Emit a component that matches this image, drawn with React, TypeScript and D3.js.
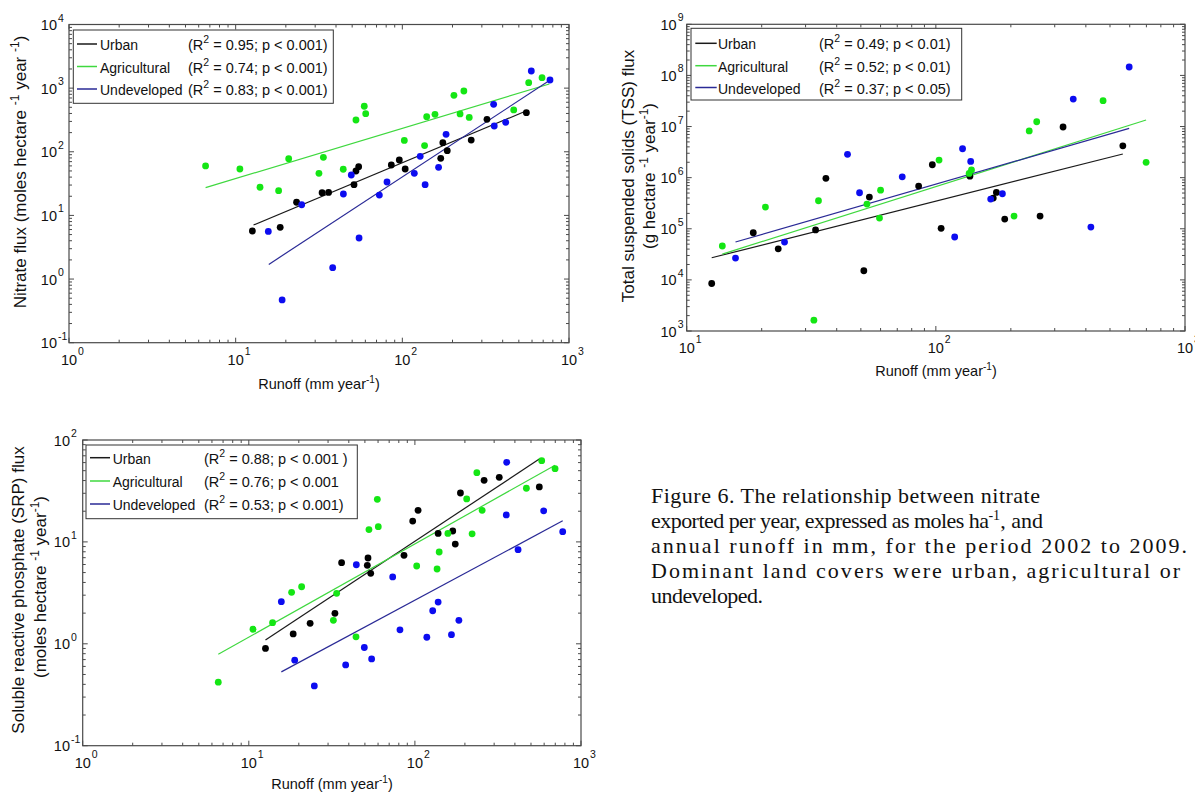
import React from 'react';
import * as d3 from 'd3';

type Pt = [number, number];

// ---------- Panel A: Nitrate flux vs runoff ----------
const nitrateUrban: Pt[] = [
  [12.6, 5.69], [18.5, 6.5], [23.2, 16.1], [33, 22.8], [36.1, 23], [51.3, 30.4],
  [52.7, 49.9], [54.7, 58.3], [85.9, 62], [95.9, 74.3], [104, 53.6], [170, 79],
  [175, 139], [186, 104], [259, 153], [322, 324], [555, 411],
];
const nitrateAgricultural: Pt[] = [
  [6.6, 60], [10.6, 53.6], [14.0, 27.7], [18.1, 24.5], [20.8, 77.8], [31.6, 45.9],
  [33.6, 81.9], [44.2, 53.1], [52.7, 316], [59.1, 519], [60.3, 397], [102.8, 151],
  [136, 125], [140, 356], [157, 388], [204, 771], [234, 901], [222, 393], [252, 347],
  [466, 454], [573, 1219], [689, 1459],
];
const nitrateUndeveloped: Pt[] = [
  [15.7, 5.6], [24.9, 14.7], [19, 0.47], [38.2, 1.51], [44.3, 21.7], [55, 4.42],
  [72.8, 20.9], [80.9, 33.5], [118, 45.9], [137, 30.4], [49.4, 43.2], [128, 84.9],
  [165, 57], [183, 188], [353, 557], [356, 254], [417, 290], [594, 1860], [769, 1343],
];
const nitrateUrbanFit: Pt[] = [[12.8, 7.07], [552, 437]];
const nitrateAgriculturalFit: Pt[] = [[6.6, 27.3], [762, 1161]];
const nitrateUndevelopedFit: Pt[] = [[15.8, 1.7], [755, 1294]];
const nitrateStats = ['0.95', '0.74', '0.83'];
const nitratePText = ['p < 0.001)', 'p < 0.001)', 'p < 0.001)'];

// ---------- Panel B: TSS flux vs runoff ----------
const tssUrban: Pt[] = [
  [36.2, 0.97e6], [12.6, 8.5e3], [18.5, 8.35e4], [23.3, 4.06e4], [32.9, 9.5e4],
  [54.1, 4.17e5], [51.4, 1.51e4], [85.3, 6.85e5], [96.8, 1.79e6], [137, 1.07e6],
  [324, 9.8e6], [563, 4.2e6], [170, 3.99e5], [175, 5.15e5], [189, 1.55e5],
  [262, 1.77e5], [105, 1.02e5],
];
const tssAgricultural: Pt[] = [
  [13.9, 4.6e4], [20.7, 2.66e5], [32.4, 1.63e3], [33.8, 3.53e5], [52.9, 3.04e5],
  [60, 5.7e5], [59.4, 1.62e5], [103, 2.21e6], [136, 1.21e6], [139, 1.41e6],
  [237, 8.2e6], [254, 1.24e7], [469, 3.2e7], [698, 1.99e6], [206, 1.77e5],
];
const tssUndeveloped: Pt[] = [
  [44.2, 2.86e6], [73.3, 1.04e6], [15.7, 2.67e4], [24.7, 5.5e4], [49.4, 5.07e5],
  [128, 3.68e6], [138, 2.08e6], [356, 3.45e7], [597, 1.46e8], [166, 3.81e5],
  [185, 4.84e5], [119, 6.9e4], [419, 1.08e5],
];
const tssUrbanFit: Pt[] = [[12.6, 2.71e4], [563, 2.9e6]];
const tssAgriculturalFit: Pt[] = [[13.9, 3.2e4], [698, 1.34e7]];
const tssUndevelopedFit: Pt[] = [[15.7, 5.5e4], [597, 9.2e6]];
const tssStats = ['0.49', '0.52', '0.37'];
const tssPText = ['p < 0.01)', 'p < 0.01)', 'p < 0.05)'];

// ---------- Panel C: SRP flux vs runoff ----------
const srpUrban: Pt[] = [
  [12.6, 0.9], [18.5, 1.25], [23.4, 1.59], [33, 1.99], [36.2, 6.25], [52.2, 6.95],
  [51.7, 5.89], [54.2, 4.92], [86, 7.38], [97, 16], [104.5, 20.4], [138, 12.1],
  [169, 12.8], [175, 9.53], [188, 30.2], [261, 40.2], [322, 43], [561, 34.6],
];
const srpAgricultural: Pt[] = [
  [6.55, 0.42], [10.6, 1.39], [13.9, 1.61], [18.1, 3.2], [20.8, 3.63], [32.3, 1.7],
  [44.2, 1.17], [33.8, 3.13], [52.9, 13.2], [59.4, 26.2], [60.2, 14.1], [102.5, 5.8],
  [136, 5.42], [140, 7.96], [158, 12.1], [205, 26.4], [221, 12], [236, 47.8],
  [254, 20.4], [469, 33.6], [580, 62.7], [698, 52.3],
];
const srpUndeveloped: Pt[] = [
  [15.7, 2.59], [18.9, 0.69], [24.8, 0.386], [38.3, 0.62], [49.6, 0.92], [54.9, 0.71],
  [81.3, 1.37], [118, 1.16], [128, 2.11], [138, 2.57], [166, 1.23], [184, 1.7],
  [44.4, 5.97], [73.5, 4.53], [357, 60.4], [355, 18.4], [418, 8.38], [596, 20.2],
  [776, 12.6],
];
const srpUrbanFit: Pt[] = [[12.6, 1.09], [561, 65]];
const srpAgriculturalFit: Pt[] = [[6.55, 0.79], [698, 56.5]];
const srpUndevelopedFit: Pt[] = [[15.7, 0.53], [776, 16.1]];
const srpStats = ['0.88', '0.76', '0.53'];
const srpPText = ['p < 0.001 )', 'p < 0.001', 'p < 0.001)'];

const seriesNames = ['Urban', 'Agricultural', 'Undeveloped'];
const dotColors = ['#000000', '#14e614', '#0c0cf0'];
const lineColors = ['#1a1a1a', '#3fd83f', '#2a2a96'];

// Caption lines
const captionLines = [
  'Figure 6. The relationship between nitrate',
  'exported per year, expressed as moles ha',
  'annual runoff in mm, for the period 2002 to 2009.',
  'Dominant land covers were urban, agricultural or',
  'undeveloped.',
];

const FONT = '"Liberation Sans", Arial, sans-serif';

interface PanelProps {
  xDomain: [number, number];
  yDomain: [number, number];
  box: { l: number; r: number; t: number; b: number };
  series: Pt[][];
  fits: Pt[][];
  stats: string[];
  pTexts: string[];
  legend: { l: number; r: number; t: number; b: number; rows: number[]; line: [number, number]; nameX: number; statX: number };
  yLabelOffset: number;
}

function decades(domain: [number, number]): number[] {
  const a = Math.round(Math.log10(domain[0]));
  const b = Math.round(Math.log10(domain[1]));
  return d3.range(a, b + 1);
}

function Panel(p: PanelProps) {
  const x = d3.scaleLog().domain(p.xDomain).range([p.box.l, p.box.r]);
  const y = d3.scaleLog().domain(p.yDomain).range([p.box.b, p.box.t]);
  const xDec = decades(p.xDomain);
  const yDec = decades(p.yDomain);
  const minor = (dec: number[]) => {
    const out: number[] = [];
    for (let i = 0; i < dec.length - 1; i++) for (let m = 2; m <= 9; m++) out.push(m * Math.pow(10, dec[i]));
    return out;
  };
  const xMinor = minor(xDec);
  const yMinor = minor(yDec);
  const line = d3.line<Pt>().x((d) => x(d[0])).y((d) => y(d[1]));
  const axisColor = '#4a4a4a';
  const MJ = 5;
  const MN = 3;
  const { l, r, t, b } = p.box;
  const lg = p.legend;
  return (
    <g fontFamily={FONT}>
      {xDec.map((e) => (
        <g key={'xt' + e}>
          <line x1={x(Math.pow(10, e))} x2={x(Math.pow(10, e))} y1={b} y2={b - MJ} stroke={axisColor} />
          <line x1={x(Math.pow(10, e))} x2={x(Math.pow(10, e))} y1={t} y2={t + MJ} stroke={axisColor} />
          <text x={x(Math.pow(10, e))} y={b + 22} fontSize={14.5} textAnchor="middle" fill="#111">10</text>
          <text x={x(Math.pow(10, e)) + 9} y={b + 12} fontSize={10.5} fill="#111">{String(e)}</text>
        </g>
      ))}
      {xMinor.map((v, i) => (
        <g key={'xm' + i}>
          <line x1={x(v)} x2={x(v)} y1={b} y2={b - MN} stroke={axisColor} />
          <line x1={x(v)} x2={x(v)} y1={t} y2={t + MN} stroke={axisColor} />
        </g>
      ))}
      {yDec.map((e) => (
        <g key={'yt' + e}>
          <line x1={l} x2={l + MJ} y1={y(Math.pow(10, e))} y2={y(Math.pow(10, e))} stroke={axisColor} />
          <line x1={r} x2={r - MJ} y1={y(Math.pow(10, e))} y2={y(Math.pow(10, e))} stroke={axisColor} />
          <text x={l - p.yLabelOffset} y={y(Math.pow(10, e)) + 5.5} fontSize={14.5} textAnchor="end" fill="#111">10</text>
          <text x={l - p.yLabelOffset + 1} y={y(Math.pow(10, e)) - 3} fontSize={10.5} fill="#111">{String(e)}</text>
        </g>
      ))}
      {yMinor.map((v, i) => (
        <g key={'ym' + i}>
          <line x1={l} x2={l + MN} y1={y(v)} y2={y(v)} stroke={axisColor} />
          <line x1={r} x2={r - MN} y1={y(v)} y2={y(v)} stroke={axisColor} />
        </g>
      ))}
      <rect x={l} y={t} width={r - l} height={b - t} fill="none" stroke={axisColor} strokeWidth={1.2} />
      {p.fits.map((f, i) => (
        <path key={'f' + i} d={line(f) || ''} stroke={lineColors[i]} strokeWidth={1.2} fill="none" />
      ))}
      {p.series.map((s, i) =>
        s.map((d, j) => <circle key={'p' + i + '_' + j} cx={x(d[0])} cy={y(d[1])} r={3.4} fill={dotColors[i]} />)
      )}
      <rect x={lg.l} y={lg.t} width={lg.r - lg.l} height={lg.b - lg.t} fill="#fff" stroke="#333" strokeWidth={1} />
      {seriesNames.map((n, i) => (
        <g key={'lg' + i}>
          <line x1={lg.line[0]} x2={lg.line[1]} y1={lg.rows[i]} y2={lg.rows[i]} stroke={lineColors[i]} strokeWidth={1.5} />
          <text x={lg.nameX} y={lg.rows[i] + 6} fontSize={14} fill="#111">{n}</text>
          <text x={lg.statX} y={lg.rows[i] + 6} fontSize={14.5} fill="#111">
            (R<tspan fontSize={10.5} dy={-7}>2</tspan>
            <tspan dy={7}>{' = ' + p.stats[i] + '; ' + p.pTexts[i]}</tspan>
          </text>
        </g>
      ))}
    </g>
  );
}

// label made of [text, isSuperscript] parts
type Part = [string, boolean];
function SupText(props: { parts: Part[]; x?: number; y?: number; transform?: string; size: number; anchor?: string }) {
  const supSize = Math.round(props.size * 0.72);
  const raise = Math.round(props.size * 0.42);
  let prevSup = false;
  return (
    <text x={props.x} y={props.y} transform={props.transform} textAnchor={props.anchor || 'middle'} fontSize={props.size}>
      {props.parts.map(([s, sup], i) => {
        let dy = 0;
        if (sup && !prevSup) dy = -raise;
        if (!sup && prevSup) dy = raise;
        prevSup = sup;
        return (
          <tspan key={i} dy={dy || undefined} fontSize={sup ? supSize : undefined}>
            {s}
          </tspan>
        );
      })}
    </text>
  );
}

const runoffLabel: Part[] = [['Runoff (mm year', false], ['-1', true], [')', false]];

export default function App() {
  return (
    <svg width={1195} height={792} style={{ position: 'absolute', left: 0, top: 0, background: '#fff' }}>
      <rect x={0} y={0} width={1195} height={792} fill="#fff" />
      <Panel
        xDomain={[1, 1000]}
        yDomain={[0.1, 10000]}
        box={{ l: 69, r: 569, t: 24.5, b: 342.7 }}
        series={[nitrateUrban, nitrateAgricultural, nitrateUndeveloped]}
        fits={[nitrateUrbanFit, nitrateAgriculturalFit, nitrateUndevelopedFit]}
        stats={nitrateStats}
        pTexts={nitratePText}
        legend={{ l: 73.3, r: 333.3, t: 30, b: 103.3, rows: [44, 66.5, 89], line: [77, 97], nameX: 100, statX: 188 }}
        yLabelOffset={12}
      />
      <Panel
        xDomain={[10, 1000]}
        yDomain={[1000, 1e9]}
        box={{ l: 686.7, r: 1185, t: 24.3, b: 331 }}
        series={[tssUrban, tssAgricultural, tssUndeveloped]}
        fits={[tssUrbanFit, tssAgriculturalFit, tssUndevelopedFit]}
        stats={tssStats}
        pTexts={tssPText}
        legend={{ l: 691, r: 961.7, t: 28.3, b: 100, rows: [43.3, 65.7, 87.5], line: [695.3, 716.7], nameX: 718, statX: 819 }}
        yLabelOffset={10}
      />
      <Panel
        xDomain={[1, 1000]}
        yDomain={[0.1, 100]}
        box={{ l: 82.7, r: 581, t: 440, b: 745.7 }}
        series={[srpUrban, srpAgricultural, srpUndeveloped]}
        fits={[srpUrbanFit, srpAgriculturalFit, srpUndevelopedFit]}
        stats={srpStats}
        pTexts={srpPText}
        legend={{ l: 86, r: 357.3, t: 445, b: 518.7, rows: [457.7, 481, 504], line: [90, 110], nameX: 112.7, statX: 204 }}
        yLabelOffset={12.7}
      />

      <g fontFamily={FONT} fill="#111">
        <SupText
          transform="translate(26,172) rotate(-90)"
          size={17}
          parts={[['Nitrate flux (moles hectare ', false], ['-1', true], [' year ', false], ['-1', true], [')', false]]}
        />
        <SupText x={319} y={389} size={14.5} parts={runoffLabel} />

        <SupText transform="translate(634,176) rotate(-90)" size={17} parts={[['Total suspended solids (TSS) flux', false]]} />
        <SupText
          transform="translate(655,176) rotate(-90)"
          size={17}
          parts={[['(g hectare ', false], ['-1', true], [' year', false], ['-1', true], [')', false]]}
        />
        <SupText x={936} y={376} size={14.5} parts={runoffLabel} />

        <SupText transform="translate(24,590) rotate(-90)" size={17} parts={[['Soluble reactive phosphate (SRP) flux', false]]} />
        <SupText
          transform="translate(46,587) rotate(-90)"
          size={17}
          parts={[['(moles hectare ', false], ['-1', true], [' year', false], ['-1', true], [')', false]]}
        />
        <SupText x={332} y={789} size={14.5} parts={runoffLabel} />
      </g>

      <g fontFamily={'"Liberation Serif", "Times New Roman", serif'} fontSize={22} fill="#111">
        <text x={651} y={503} textLength={389} lengthAdjust="spacing">{captionLines[0]}</text>
        <text x={651} y={528}>
          <tspan textLength={338} lengthAdjust="spacing">{captionLines[1]}</tspan>
          <tspan fontSize={14} dy={-8}>-1</tspan>
          <tspan dy={8}>, and</tspan>
        </text>
        <text x={651} y={553} textLength={536} lengthAdjust="spacing">{captionLines[2]}</text>
        <text x={651} y={578} textLength={529} lengthAdjust="spacing">{captionLines[3]}</text>
        <text x={651} y={603} textLength={112} lengthAdjust="spacing">{captionLines[4]}</text>
      </g>
    </svg>
  );
}
